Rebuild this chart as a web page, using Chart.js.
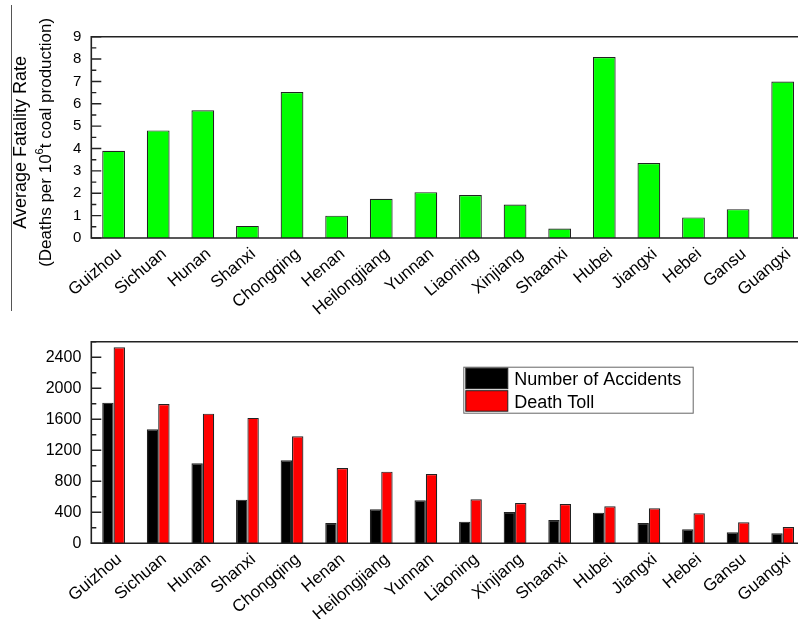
<!DOCTYPE html>
<html>
<head>
<meta charset="utf-8">
<script src="https://cdn.jsdelivr.net/npm/chart.js@4.4.1/dist/chart.umd.min.js"></script>
<style>
  html, body { margin: 0; padding: 0; background: #fff; overflow: hidden; width: 798px; height: 619px; }
  #wrap { position: relative; width: 798px; height: 619px; overflow: hidden; }
  #rateCanvas { position: absolute; left: 0; top: 0; }
  #countCanvas { position: absolute; left: 0; top: 300px; }
  #rule { position: absolute; left: 11px; top: 5px; width: 1px; height: 306px; background: #555; }
</style>
</head>
<body>
<div id="wrap">
  <canvas id="countCanvas" width="812" height="319"></canvas>
  <canvas id="rateCanvas" width="812" height="320"></canvas>
  <div id="rule"></div>
</div>
<script>
// Provinces, in the order of the death toll ranking
const provinces = ['Guizhou', 'Sichuan', 'Hunan', 'Shanxi', 'Chongqing', 'Henan', 'Heilongjiang', 'Yunnan',
                   'Liaoning', 'Xinjiang', 'Shaanxi', 'Hubei', 'Jiangxi', 'Hebei', 'Gansu', 'Guangxi'];

// Average fatality rate (deaths per 10^6 t of coal produced)
const fatalityRate = [3.90, 4.81, 5.71, 0.54, 6.53, 1.00, 1.75, 2.05, 1.92, 1.50, 0.42, 8.09, 3.35, 0.92, 1.29, 7.00];

// Accident counts and deaths
const accidents = [1814, 1471, 1032, 563, 1071, 262, 439, 555, 279, 404, 301, 395, 262, 181, 142, 129];
const deathToll = [2529, 1797, 1672, 1617, 1380, 972, 924, 894, 568, 520, 507, 477, 451, 387, 271, 210];

// Axis ticks
const rateTicks = [0, 1, 2, 3, 4, 5, 6, 7, 8, 9];
const countTicks = [0, 400, 800, 1200, 1600, 2000, 2400];

const seriesNames = ['Number of Accidents', 'Death Toll'];

const FONT = '"Liberation Sans", Arial, Helvetica, sans-serif';
Chart.defaults.font.family = FONT;
Chart.defaults.color = '#000';

// Plot frame (top, left, bottom) plus inward major/minor tick marks on the value axis
const framePlugin = {
  id: 'frame',
  afterDatasetsDraw(chart, args, opts) {
    const { ctx, chartArea: a, scales: { y } } = chart;
    ctx.save();
    ctx.strokeStyle = '#222';
    ctx.lineWidth = 1.6;
    ctx.beginPath();
    ctx.moveTo(a.left, a.top); ctx.lineTo(a.right + 20, a.top);
    ctx.moveTo(a.left, a.top - 0.8); ctx.lineTo(a.left, a.bottom + 0.8);
    ctx.moveTo(a.left, a.bottom); ctx.lineTo(a.right + 20, a.bottom);
    ctx.stroke();
    ctx.lineWidth = 1.4;
    ctx.beginPath();
    const n = Math.round((y.max - y.min) / opts.minor);
    for (let i = 0; i <= n; i++) {
      const v = y.min + i * opts.minor;
      const py = y.getPixelForValue(v);
      const r = v / opts.major;
      const isMajor = Math.abs(r - Math.round(r)) < 1e-6;
      ctx.moveTo(a.left, py);
      ctx.lineTo(a.left + (isMajor ? 10 : 5), py);
    }
    ctx.stroke();
    ctx.restore();
  }
};

// Two-line rotated value-axis title with a superscript exponent
const rateTitlePlugin = {
  id: 'rateTitle',
  afterDraw(chart) {
    const { ctx, chartArea: a } = chart;
    const cy = (a.top + a.bottom) / 2 + 5;
    ctx.save();
    ctx.fillStyle = '#000';
    ctx.textBaseline = 'alphabetic';

    // first line
    ctx.save();
    ctx.translate(26, cy);
    ctx.rotate(-Math.PI / 2);
    ctx.font = '18px ' + FONT;
    ctx.textAlign = 'center';
    ctx.fillText('Average Fatality Rate', 0, 0);
    ctx.restore();

    // second line: "(Deaths per 10" + superscript "6" + "t coal production)"
    const partA = '(Deaths per 10', sup = '6', partB = 't coal production)';
    ctx.save();
    ctx.translate(51, cy);
    ctx.rotate(-Math.PI / 2);
    ctx.textAlign = 'left';
    ctx.font = '17px ' + FONT;
    const wA = ctx.measureText(partA).width, wB = ctx.measureText(partB).width;
    ctx.font = '11px ' + FONT;
    const wS = ctx.measureText(sup).width;
    let x = -(wA + wS + wB) / 2;
    ctx.font = '17px ' + FONT;
    ctx.fillText(partA, x, 0); x += wA;
    ctx.font = '11px ' + FONT;
    ctx.fillText(sup, x, -8); x += wS;
    ctx.font = '17px ' + FONT;
    ctx.fillText(partB, x, 0);
    ctx.restore();

    ctx.restore();
  }
};

// Boxed legend drawn inside the plot area
const boxLegendPlugin = {
  id: 'boxLegend',
  afterDraw(chart) {
    const { ctx, chartArea: a } = chart;
    const bx = a.left + 372, by = a.top + 25, bw = 229.4, bh = 46;
    ctx.save();
    ctx.fillStyle = '#fff';
    ctx.fillRect(bx, by, bw, bh);
    ctx.strokeStyle = '#666';
    ctx.lineWidth = 1;
    ctx.strokeRect(bx + 0.5, by + 0.5, bw, bh);
    ctx.font = '18px ' + FONT;
    ctx.textBaseline = 'alphabetic';
    chart.data.datasets.forEach((ds, i) => {
      const sy = by + 1.5 + i * 22.5;
      ctx.fillStyle = ds.backgroundColor;
      ctx.fillRect(bx + 2.5, sy, 42, 20.5);
      ctx.strokeStyle = '#222';
      ctx.strokeRect(bx + 2.5, sy, 42, 20.5);
      ctx.fillStyle = '#000';
      ctx.fillText(ds.label, bx + 51, sy + 17);
    });
    ctx.restore();
  }
};

function fixedWidth(w) { return s => { s.width = w; }; }
function fixedHeight(h) { return s => { s.height = h; }; }

const xTickOpts = {
  autoSkip: false,
  minRotation: 40,
  maxRotation: 40,
  padding: 6,
  labelOffset: 6,
  font: { size: 17 },
  color: '#000'
};

// Fatality rate chart
new Chart(document.getElementById('rateCanvas'), {
  type: 'bar',
  data: {
    labels: provinces,
    datasets: [{
      label: 'Average Fatality Rate',
      data: fatalityRate,
      backgroundColor: '#00ff00',
      borderColor: '#222',
      borderWidth: 1.2,
      borderSkipped: 'bottom',
      categoryPercentage: 0.51,
      barPercentage: 1
    }]
  },
  options: {
    responsive: false,
    animation: false,
    events: [],
    layout: { padding: { top: 36.7, right: 7, left: 0, bottom: 0 } },
    plugins: { legend: { display: false }, tooltip: { enabled: false }, frame: { major: 1, minor: 0.5 } },
    scales: {
      x: {
        grid: { display: false, drawTicks: false },
        border: { display: false },
        ticks: xTickOpts,
        afterFit: fixedHeight(82)
      },
      y: {
        min: 0, max: 9,
        grid: { display: false, drawTicks: false },
        border: { display: false },
        afterBuildTicks: s => { s.ticks = rateTicks.map(v => ({ value: v })); },
        ticks: { padding: 10, font: { size: 15 }, color: '#000', callback: v => String(v) },
        afterFit: fixedWidth(91.3)
      }
    }
  },
  plugins: [framePlugin, rateTitlePlugin]
});

// Accidents and death toll chart
new Chart(document.getElementById('countCanvas'), {
  type: 'bar',
  data: {
    labels: provinces,
    datasets: [
      { label: seriesNames[0], data: accidents, backgroundColor: '#000000' },
      { label: seriesNames[1], data: deathToll, backgroundColor: '#ff0000' }
    ].map(d => Object.assign(d, {
      borderColor: '#222',
      borderWidth: 1.2,
      borderSkipped: 'bottom',
      categoryPercentage: 0.51,
      barPercentage: 1
    }))
  },
  options: {
    responsive: false,
    animation: false,
    events: [],
    layout: { padding: { top: 41.7, right: 7, left: 0, bottom: 0 } },
    plugins: { legend: { display: false }, tooltip: { enabled: false }, frame: { major: 400, minor: 200 } },
    scales: {
      x: {
        grid: { display: false, drawTicks: false },
        border: { display: false },
        ticks: xTickOpts,
        afterFit: fixedHeight(75.7)
      },
      y: {
        min: 0, max: 2600,
        grid: { display: false, drawTicks: false },
        border: { display: false },
        afterBuildTicks: s => { s.ticks = countTicks.map(v => ({ value: v })); },
        ticks: { padding: 10, font: { size: 16 }, color: '#000', callback: v => String(v) },
        afterFit: fixedWidth(91.3)
      }
    }
  },
  plugins: [framePlugin, boxLegendPlugin]
});
</script>
</body>
</html>
